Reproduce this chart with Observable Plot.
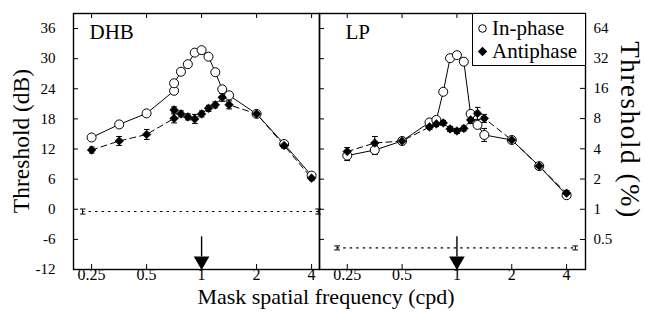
<!DOCTYPE html>
<html><head><meta charset="utf-8">
<script src="https://cdn.jsdelivr.net/npm/d3@7"></script>
<script src="https://cdn.jsdelivr.net/npm/@observablehq/plot@0.6"></script>
<style>
body{margin:0;background:#fff;}
#wrap{position:relative;width:646px;height:322px;font-family:"Liberation Serif","Times New Roman",serif;color:#000;overflow:hidden;}
.chart{position:absolute;top:0;}
.lab{position:absolute;white-space:nowrap;line-height:1;}
#legend{position:absolute;left:472px;top:13px;width:112px;height:51px;border:1.3px solid #000;border-right:none;background:#fff;font-size:21px;}
#legend .row{position:absolute;left:4px;display:flex;align-items:center;line-height:1;}
#legend svg{margin-right:4px;}
</style></head><body>
<div id="wrap">
  <div id="left" class="chart" style="left:0"></div>
  <div id="right" class="chart" style="left:309px"></div>
  <div class="lab" style="left:22px;top:141px;font-size:23.5px;transform:translate(-50%,-50%) rotate(-90deg);">Threshold (dB)</div>
  <div class="lab" style="left:629px;top:130px;font-size:27px;letter-spacing:1.6px;transform:translate(-50%,-50%) rotate(90deg);">Threshold (%)</div>
  <div class="lab" style="left:326px;top:296.5px;font-size:22px;line-height:0.6;transform:translate(-50%,-50%);">Mask spatial frequency (cpd)</div>
  <div id="legend">
    <div class="row" style="top:4px"><svg width="11" height="11"><circle cx="5.5" cy="5.5" r="3.8" fill="#fff" stroke="#000" stroke-width="1"/></svg><span>In-phase</span></div>
    <div class="row" style="top:27px"><svg width="11" height="11"><path d="M5.5,0.8L10.2,5.5L5.5,10.2L0.8,5.5Z" fill="#000"/></svg><span>Antiphase</span></div>
  </div>
</div>
<script>
// ---- data ----
const xTicks = [0.25, 0.5, 1, 2, 4];
const xTickLabels = ["0.25", "0.5", "1", "2", "4"];
const dbTicks = [-12, -6, 0, 6, 12, 18, 24, 30, 36];
const pctTicks = [0.5, 1, 2, 4, 8, 16, 32, 64];
const pctLabels = ["0.5", "1", "2", "4", "8", "16", "32", "64"];

const dhbFreq = [0.25, 0.354, 0.5, 0.707, 0.707, 0.771, 0.841, 0.917, 1, 1.091, 1.189, 1.297, 1.414, 2, 2.83, 4];
const dhbIn   = [14.3, 16.9, 19.1, 23.6, 25.1, 27.4, 28.9, 31.2, 31.7, 30.4, 27.3, 23.9, 22.7, 19.0, 13.0, 6.7];
const dhbInErr = [0.5, 0.5, 0.5, 0.5, 0.5, 0.5, 0.5, 0.5, 0.5, 0.5, 0.5, 0.5, 0.5, 0.5, 0.5, 0.5];
const dhbAnti = [11.8, 13.6, 14.9, 18.1, 19.8, 19.0, 18.4, 18.0, 19.0, 20.1, 20.8, 22.3, 20.8, 19.0, 12.7, 6.2];
const dhbAntiErr = [0.6, 0.9, 1.0, 0.9, 0.6, 0.6, 0.6, 0.9, 0.6, 0.6, 0.6, 0.8, 0.8, 0.5, 0.5, 0.5];
const dhbBaseFreq = [0.223, 4.35];
const dhbBase = [-0.45, -0.45];
const dhbBaseErr = [0.5, 0.5];

const lpFreq = [0.25, 0.354, 0.5, 0.707, 0.771, 0.841, 0.917, 1, 1.091, 1.189, 1.297, 1.414, 2, 2.83, 4];
const lpIn   = [10.7, 11.8, 13.6, 17.3, 17.8, 23.4, 30.1, 30.7, 29.4, 19.0, 16.8, 14.8, 13.8, 8.6, 2.8];
const lpInErr = [1.0, 0.9, 0.5, 0.5, 0.5, 0.5, 0.5, 0.5, 0.5, 0.5, 0.5, 1.3, 0.5, 0.5, 0.5];
const lpAnti = [11.5, 13.2, 13.6, 16.4, 17.0, 17.2, 16.0, 15.6, 16.1, 17.8, 19.1, 18.1, 13.8, 8.6, 3.2];
const lpAntiErr = [0.8, 1.3, 0.5, 0.5, 0.5, 0.5, 0.5, 0.5, 0.5, 0.7, 1.2, 0.8, 0.5, 0.5, 0.5];
const lpBaseFreq = [0.22, 4.47];
const lpBase = [-7.7, -7.7];
const lpBaseErr = [0.4, 0.4];

const maskFreq = [1];
const arrowTop = [-5.5];
const arrowEnd = [-9.5];
const arrowHead = [-10.3];

// ---- build ----
const rows = (fs, vs, es) => fs.map((f, i) => ({f, v: vs[i], e: es[i]}));
const pctDb = pctTicks.map(p => 20 * Math.log10(p));
const font = "Liberation Serif, Times New Roman, serif";
const xLab = xTicks.map((x, i) => ({x, label: xTickLabels[i]}));
const dbLab = dbTicks.map(y => ({y, label: String(y)}));
const pctLab = pctDb.map((y, i) => ({y, label: pctLabels[i]}));

function panel({name, freq, inV, inE, antiV, antiE, bFreq, bV, bE, side, domain, width, mL, mR}) {
  const inD = rows(freq, inV, inE), antiD = rows(freq, antiV, antiE), baseD = rows(bFreq, bV, bE);
  const arrowD = maskFreq.map((f, i) => ({f, t: arrowTop[i], b: arrowEnd[i], h: arrowHead[i]}));
  const innerW = width - mL - mR, innerH = 322 - 13 - 53;
  const err = (data) => Plot.link(data, {x1: "f", x2: "f", y1: d => d.v - d.e, y2: d => d.v + d.e, markerStart: "tick", markerEnd: "tick", stroke: "black", strokeWidth: 1});
  const marks = [
    Plot.frame({stroke: "black", strokeWidth: 1.4}),
    Plot.text(xLab, {x: "x", text: "label", frameAnchor: "bottom", lineAnchor: "top", dy: -1, fontSize: 16, fill: "black"}),
    Plot.tickX(xTicks, {x: d => d, insetTop: innerH - 5, stroke: "black"}),
    Plot.tickX(xTicks, {x: d => d, insetBottom: innerH - 5, stroke: "black"}),
    Plot.tickY(dbTicks, {y: d => d, insetRight: innerW - 5, stroke: "black"}),
  ];
  if (side === "left") {
    marks.push(Plot.text(dbLab, {y: "y", text: "label", frameAnchor: "left", textAnchor: "end", dx: -18, fontSize: 15, fill: "black"}));
  } else {
    marks.push(Plot.tickY(pctDb, {y: d => d, insetLeft: innerW - 5, stroke: "black"}));
    marks.push(Plot.text(pctLab, {y: "y", text: "label", frameAnchor: "right", textAnchor: "start", dx: 8, fontSize: 15, fill: "black"}));
  }
  marks.push(
    Plot.text([name], {frameAnchor: "top-left", dx: side === "left" ? 16 : 26, dy: 19, lineAnchor: "middle", textAnchor: "start", fontSize: 21, fill: "black"}),
    Plot.line(baseD, {x: "f", y: "v", stroke: "black", strokeWidth: 1.2, strokeDasharray: "1.5,5"}),
    err(baseD),
    Plot.ruleX(arrowD, {x: "f", y1: "t", y2: "b", stroke: "black", strokeWidth: 1.4}),
    Plot.dot(arrowD, {x: "f", y: "h", symbol: "triangle", r: 5.8, rotate: 180, fill: "black", stroke: "none"}),
    Plot.line(antiD, {x: "f", y: "v", stroke: "black", strokeWidth: 1, strokeDasharray: "6,4"}),
    Plot.line(inD, {x: "f", y: "v", stroke: "black", strokeWidth: 1}),
    err(inD),
    err(antiD),
    Plot.dot(inD, {x: "f", y: "v", r: 4.5, fill: "white", stroke: "black", strokeWidth: 1}),
    Plot.dot(antiD, {x: "f", y: "v", symbol: "diamond2", r: 3.9, fill: "black", stroke: "black", strokeWidth: 0.6})
  );
  return Plot.plot({
    width, height: 322, marginLeft: mL, marginRight: mR, marginTop: 13, marginBottom: 53,
    style: {background: "transparent", fontFamily: font, color: "black", overflow: "visible"},
    x: {type: "log", domain, axis: null},
    y: {domain: [-12, 39], axis: null},
    marks
  });
}

document.getElementById("left").append(panel({
  name: "DHB", freq: dhbFreq, inV: dhbIn, inE: dhbInErr, antiV: dhbAnti, antiE: dhbAntiErr,
  bFreq: dhbBaseFreq, bV: dhbBase, bE: dhbBaseErr, side: "left", domain: [0.199, 4.42], width: 330, mL: 73, mR: 11
}));
document.getElementById("right").append(panel({
  name: "LP", freq: lpFreq, inV: lpIn, inE: lpInErr, antiV: lpAnti, antiE: lpAntiErr,
  bFreq: lpBaseFreq, bV: lpBase, bE: lpBaseErr, side: "right", domain: [0.176, 5.08], width: 337, mL: 10, mR: 61
}));
</script>
</body></html>
